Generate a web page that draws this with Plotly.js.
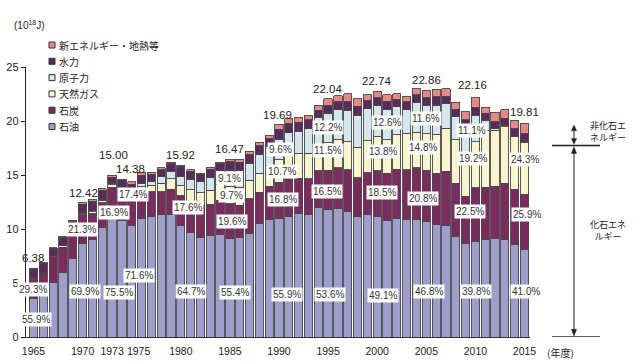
<!DOCTYPE html>
<html><head><meta charset="utf-8">
<script src="https://cdn.plot.ly/plotly-3.0.1.min.js"></script>
<style>html,body{margin:0;padding:0;background:#fff}#c{width:640px;height:364px}</style>
</head><body><div id="c"></div>
<script>
const years = [1965,1966,1967,1968,1969,1970,1971,1972,1973,1974,1975,1976,1977,1978,1979,1980,1981,1982,1983,1984,1985,1986,1987,1988,1989,1990,1991,1992,1993,1994,1995,1996,1997,1998,1999,2000,2001,2002,2003,2004,2005,2006,2007,2008,2009,2010,2011,2012,2013,2014,2015];
const oil = [3.57,4.05,5.05,6.00,7.25,8.68,9.05,10.10,11.33,10.80,10.30,11.00,11.20,11.35,11.30,10.30,9.70,9.25,9.40,9.45,9.12,9.20,9.60,10.50,10.90,11.01,11.20,11.40,11.30,11.95,11.81,11.90,11.60,11.20,11.30,11.17,10.80,11.00,10.85,10.85,10.70,10.40,10.35,9.30,8.65,8.82,9.00,9.10,9.00,8.55,8.11];
const coal = [1.87,1.87,2.40,2.33,2.50,2.65,2.40,2.35,2.54,2.60,2.50,2.45,2.25,2.10,2.40,2.80,2.85,2.95,2.90,3.20,3.23,3.00,3.20,2.90,3.05,3.31,3.45,3.30,3.35,3.45,3.64,3.75,3.90,3.55,3.90,4.21,4.35,4.55,4.65,4.80,4.75,4.75,5.00,4.95,4.40,4.99,4.85,4.85,5.25,5.15,5.13];
const gas = [0.08,0.08,0.08,0.10,0.12,0.15,0.17,0.20,0.23,0.30,0.36,0.45,0.60,0.80,0.95,0.97,1.10,1.15,1.30,1.50,1.60,1.65,1.70,1.75,1.90,2.11,2.25,2.30,2.35,2.40,2.53,2.60,2.60,2.80,2.95,3.14,3.10,3.20,3.35,3.30,3.38,3.60,4.00,4.00,3.95,4.25,5.30,5.20,5.20,4.85,4.81];
const nuclear = [0,0,0.01,0.01,0.02,0.04,0.08,0.10,0.09,0.15,0.24,0.35,0.38,0.60,0.70,0.80,0.95,1.05,1.20,1.30,1.50,1.60,1.60,1.75,1.75,1.89,2.00,2.05,2.30,2.55,2.69,2.80,2.90,2.95,3.00,2.87,2.85,2.55,2.20,2.75,2.65,2.70,2.25,2.15,2.40,2.46,0.93,0.13,0.09,0,0.08];
const hydro = [0.76,0.83,0.62,0.77,0.80,0.75,0.85,0.80,0.62,0.65,0.76,0.75,0.65,0.65,0.70,0.89,0.75,0.65,0.75,0.60,0.77,0.75,0.80,0.83,0.75,0.92,0.85,0.85,0.80,0.65,0.77,0.72,0.80,0.85,0.75,0.77,0.75,0.70,0.75,0.75,0.69,0.80,0.70,0.67,0.72,0.73,0.65,0.68,0.70,0.72,0.71];
const newEnergy = [0.10,0.10,0.10,0.10,0.10,0.15,0.15,0.17,0.19,0.10,0.22,0.26,0.18,0.17,0.14,0.16,0.13,0.12,0.17,0.14,0.25,0.24,0.28,0.31,0.31,0.45,0.45,0.45,0.40,0.44,0.60,0.59,0.72,0.71,0.53,0.58,0.58,0.52,0.47,0.53,0.69,0.67,0.68,0.67,0.76,0.91,0.55,0.85,0.80,0.78,0.97];

const seriesNames = ["石油","石炭","天然ガス","原子力","水力","新エネルギー・地熱等"];
const seriesData = [oil, coal, gas, nuclear, hydro, newEnergy];
const seriesColors = ["#9d9ecb","#7c2b5f","#f8f4cb","#d4e6ee","#5a2a5c","#e58886"];

const tickText = ["1965","1970","1973","1975","1980","1985","1990","1995","2000","2005","2010","2015"];
const tickPos  = [1965,1970,1973,1975.7,1980,1985,1990,1995,2000,2005,2010,2015];

// total labels: [year position, y position, text]
const totalLabels = [
 [1964.95,7.36,"6.38"],[1970.04,13.38,"12.42"],[1973.1,16.85,"15.00"],[1974.9,15.6,"14.38"],
 [1979.92,16.81,"15.92"],[1985.0,17.45,"16.47"],[1989.89,20.6,"19.69"],[1994.98,23.0,"22.04"],
 [1999.97,23.75,"22.74"],[2005.07,23.84,"22.86"],[2009.75,23.38,"22.16"],[2014.95,20.88,"19.81"]
];
// share labels: [year position, y position, text]
const shareLabels = [
 [1965.25,1.62,"55.9%"],[1964.9,4.4,"29.3%"],[1969.94,9.95,"21.3%"],[1970.24,4.21,"69.9%"],
 [1973.2,11.53,"16.9%"],[1973.71,4.12,"75.5%"],[1975.13,13.19,"17.4%"],[1975.74,5.69,"71.6%"],
 [1980.73,11.99,"17.6%"],[1981.04,4.21,"64.7%"],[1984.91,14.68,"9.1%"],[1985.21,13.1,"9.7%"],
 [1985.21,10.69,"19.6%"],[1985.52,4.12,"55.4%"],[1990.2,17.36,"9.6%"],[1990.31,15.32,"10.7%"],
 [1990.41,12.73,"16.8%"],[1990.81,3.94,"55.9%"],[1995.0,19.4,"12.2%"],[1995.0,17.27,"11.5%"],
 [1994.9,13.47,"16.5%"],[1995.19,3.94,"53.6%"],[2000.99,19.86,"12.6%"],[2000.58,17.18,"13.8%"],
 [2000.48,13.38,"18.5%"],[2000.58,3.84,"49.1%"],[2004.97,20.23,"11.6%"],[2004.66,17.55,"14.8%"],
 [2004.66,12.82,"20.8%"],[2005.28,4.21,"46.8%"],[2009.65,19.12,"11.1%"],[2009.75,16.53,"19.2%"],
 [2009.45,11.62,"22.5%"],[2010.06,4.21,"39.8%"],[2015.05,16.44,"24.3%"],[2015.25,11.34,"25.9%"],
 [2015.15,4.21,"41.0%"]
];
const sideShares = [[2016.88,19.58,"4.9%"],[2016.88,18.47,"3.6%"]];

const FONT = "Liberation Sans, Arial, Noto Sans CJK JP, sans-serif";
const JFONT = "Noto Sans CJK JP, Liberation Sans, sans-serif";

const traces = seriesNames.map((n,i)=>({
  type:"bar", name:n, x:years, y:seriesData[i],
  marker:{color:seriesColors[i], line:{color:"#474747", width:0.9}},
  showlegend:false, hoverinfo:"skip"
}));

const annotations = [];
totalLabels.forEach(t=>annotations.push({x:t[0],y:t[1],xref:"x",yref:"y",text:t[2],showarrow:false,
  font:{family:FONT,size:11.5,color:"#222"}}));
shareLabels.forEach(t=>annotations.push({x:t[0],y:t[1],xref:"x",yref:"y",text:t[2],showarrow:false,
  bgcolor:"#ffffff",borderpad:1,font:{family:FONT,size:10,color:"#333"}}));
sideShares.forEach(t=>annotations.push({x:t[0],y:t[1],xref:"x",yref:"y",text:t[2],showarrow:false,
  font:{family:FONT,size:10,color:"#333"}}));

// unit label
annotations.push({xref:"paper",yref:"paper",x:-0.028,y:1.157,xanchor:"left",yanchor:"middle",
  text:"(10<sup>18</sup>J)",showarrow:false,font:{family:FONT,size:10,color:"#222"}});
// x unit
annotations.push({xref:"paper",yref:"paper",x:1.03,y:-0.058,xanchor:"left",yanchor:"middle",
  text:"(年度)",showarrow:false,font:{family:JFONT,size:10,color:"#222"}});

// custom legend (top-to-bottom reverse order)
const shapes = [];
const legendOrder = [5,4,3,2,1,0];
legendOrder.forEach((si,k)=>{
  const py = 44.5 + 16.3*k;
  const yp = (336.5-py)/270;
  const h = 3/270;
  shapes.push({type:"rect",xref:"paper",yref:"paper",x0:(49-26)/504,x1:(55-26)/504,y0:yp-h,y1:yp+h,
    fillcolor:seriesColors[si],line:{color:"#333",width:1}});
  annotations.push({xref:"paper",yref:"paper",x:(57-26)/504,y:yp,xanchor:"left",yanchor:"middle",
    text:seriesNames[si],showarrow:false,font:{family:JFONT,size:10,color:"#222"}});
});

// right-side bracket with arrows (drawn as shapes)
const ax1 = (552-26)/504, ax2 = (600-26)/504, axm = (574-26)/504, hw = 2.6/504;
const tri = (tipY, baseY)=>({type:"path",xref:"paper",yref:"y",
  path:`M ${axm},${tipY} L ${axm-hw},${baseY} L ${axm+hw},${baseY} Z`,
  fillcolor:"#222",line:{color:"#222",width:0.5}});
shapes.push({type:"line",xref:"paper",yref:"y",x0:ax1,x1:ax2,y0:17.73,y1:17.73,line:{color:"#222",width:1.5}});
shapes.push({type:"line",xref:"paper",yref:"y",x0:ax1,x1:ax2,y0:0,y1:0,line:{color:"#222",width:1.5}});
shapes.push({type:"line",xref:"paper",yref:"y",x0:axm,x1:axm,y0:0.3,y1:17.4,line:{color:"#222",width:1}});
shapes.push(tri(17.62,17.0));
shapes.push(tri(0.1,0.72));
shapes.push({type:"line",xref:"paper",yref:"y",x0:axm,x1:axm,y0:18.0,y1:19.4,line:{color:"#222",width:1}});
shapes.push(tri(19.62,19.1));
shapes.push(tri(17.86,18.38));
annotations.push({xref:"paper",yref:"y",x:(588-26)/504,y:19.05,xanchor:"left",yanchor:"middle",
  text:"非化石エ<br>ネルギー",showarrow:false,align:"left",font:{family:JFONT,size:9,color:"#222"}});
annotations.push({xref:"paper",yref:"y",x:(588-26)/504,y:9.9,xanchor:"left",yanchor:"middle",
  text:"化石エネ<br>ルギー",showarrow:false,align:"center",font:{family:JFONT,size:9,color:"#222"}});

const layout = {
  width:640, height:364,
  margin:{l:26, r:110, t:67, b:27},
  paper_bgcolor:"#fff", plot_bgcolor:"#fff",
  barmode:"stack", bargap:0.16,
  showlegend:false,
  font:{family:FONT, size:11, color:"#222"},
  xaxis:{range:[1964.236,2015.56], tickmode:"array", tickvals:tickPos, ticktext:tickText, tickangle:0,
    showgrid:false, zeroline:false, showline:true, linecolor:"#333", linewidth:1,
    ticks:"", ticklabelstandoff:4, tickfont:{family:FONT,size:10.5,color:"#222"}},
  yaxis:{range:[0,25], tickvals:[0,5,10,15,20,25], showgrid:false, zeroline:false,
    showline:true, linecolor:"#222", linewidth:1.2, ticks:"outside", ticklen:4, tickcolor:"#222",
    tickfont:{family:FONT,size:11,color:"#222"}},
  annotations, shapes
};
Plotly.newPlot("c", traces, layout, {staticPlot:true, displayModeBar:false});
</script></body></html>
